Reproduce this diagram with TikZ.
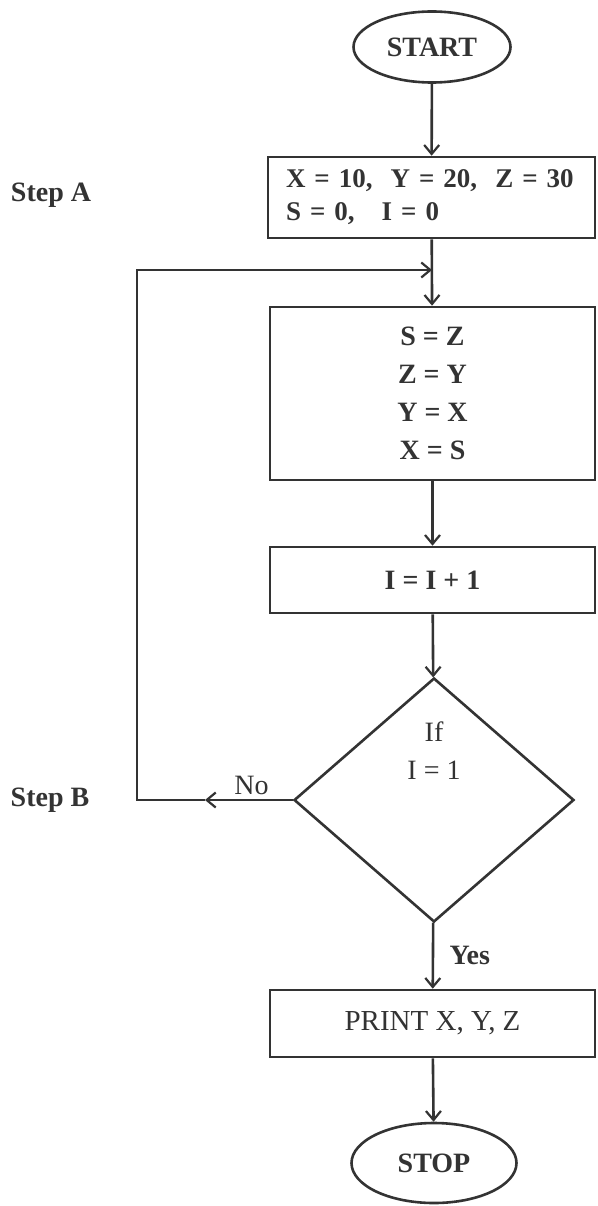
\documentclass[tikz,border=0pt]{standalone}
\usepackage{fontspec}
\setmainfont{Liberation Serif}
\usetikzlibrary{shapes.geometric,arrows.meta}
\definecolor{ink}{HTML}{333333}
\tikzset{
  flow/.style={draw=ink,line width=2.6pt,-{Straight Barb[length=9pt,width=15pt,line width=2.2pt]}},
  termbox/.style={ellipse,draw=ink,line width=2.6pt,inner sep=0pt,font=\bfseries\fontsize{28}{30}\selectfont,text=ink},
  procbox/.style={rectangle,draw=ink,line width=2.6pt,inner sep=0pt,text=ink},
  decbox/.style={diamond,draw=ink,line width=2.6pt,inner sep=0pt},
  sidelabel/.style={font=\bfseries\fontsize{28}{30}\selectfont,text=ink},
  edgelabel/.style={font=\fontsize{28}{30}\selectfont,text=ink}
}
\begin{document}
\begin{tikzpicture}[x=1pt,y=-1pt]
\useasboundingbox[fill=white] (0,0) rectangle (597,1206);
\node[termbox,minimum width=157pt,minimum height=71pt] (start) at (432,47) {START};
\node[procbox,minimum width=327pt,minimum height=81pt,text width=291pt,align=left,font=\bfseries\fontsize{27}{33}\selectfont] (a) at (431.5,197.5) {X = 10,\ \ Y = 20,\ \ Z = 30\\S = 0,\ \ \ I = 0};
\node[procbox,minimum width=325pt,minimum height=173pt,align=center,font=\bfseries\fontsize{28}{38}\selectfont] (b) at (432.5,393.5) {S = Z\\Z = Y\\Y = X\\X = S};
\node[procbox,minimum width=325pt,minimum height=66pt,font=\bfseries\fontsize{28}{30}\selectfont] (c) at (432.5,580) {I = I + 1};
\node[decbox,minimum width=280pt,minimum height=244pt,label={[yshift=49pt,align=center,font=\fontsize{28}{38}\selectfont,text=ink]center:If\\I = 1}] (d) at (434,800) {};
\node[procbox,minimum width=325pt,minimum height=67pt,font=\fontsize{29}{30}\selectfont] (p) at (432.5,1023.5) {PRINT X, Y, Z};
\node[termbox,minimum width=165pt,minimum height=80pt] (stop) at (434,1163) {STOP};
\node[sidelabel] (stepa) at (51,195) {Step A};
\node[sidelabel] (stepb) at (50,800) {Step B};
\coordinate (nomid) at (205,800);
\coordinate (lb) at (137,800);
\coordinate (lt) at (137,270);
\coordinate (j) at (432,270);
\draw[flow] (start) -- (a);
\draw[flow] (a) -- (b);
\draw[flow] (b) -- (c);
\draw[flow] (c) -- (d);
\draw[flow] (d) -- node[pos=0.5,right=12pt,font=\bfseries\fontsize{28}{30}\selectfont,text=ink] (yes) {Yes} (p);
\draw[flow] (p) -- (stop);
\draw[flow] (d.west) -- node[pos=0.47,above=1pt,edgelabel] (no) {No} (nomid);
\draw[flow] (nomid) -- (lb) -- (lt) -- (j);
\end{tikzpicture}
\end{document}
